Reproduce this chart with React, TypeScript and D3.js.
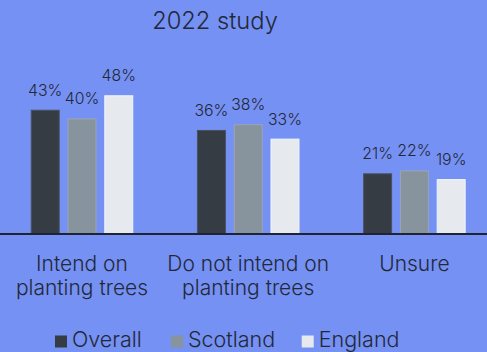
import React from "react";
import * as d3 from "d3";

const categories = ["Intend on\nplanting trees", "Do not intend on\nplanting trees", "Unsure"];
const seriesNames = ["Overall", "Scotland", "England"];
const overall = [43, 36, 21];
const scotland = [40, 38, 22];
const england = [48, 33, 19];
const seriesValues = [overall, scotland, england];
const colors = ["#363c44", "#87939d", "#e6e9ed"];
const strokes = ["#4a5260", "#9aa5b8", "#f2f4ff"];

const W = 487;
const H = 352;
const BG = "#7591f3";
const TEXT = "#232838";
const FONT = "Inter, 'Noto Sans', sans-serif";

export default function App() {
  const x0 = d3.scaleBand<number>()
    .domain(d3.range(categories.length))
    .range([-1.1, 497.5])
    .paddingInner(0.383)
    .paddingOuter(0.1915);
  const x1 = d3.scaleBand<number>()
    .domain(d3.range(seriesNames.length))
    .range([0, x0.bandwidth()])
    .paddingInner(0.212)
    .paddingOuter(0);
  const y = d3.scaleLinear().domain([0, 50]).range([234, 89.5]);

  return (
    <svg width={W} height={H} style={{ position: "fixed", left: 0, top: 0, display: "block", background: BG }}>
      <rect x={0} y={0} width={W} height={H} fill={BG} />
      <text x={215} y={28.5} textAnchor="middle" fontFamily={FONT} fontSize={23.7} fontWeight={300} fill={TEXT}>
        2022 study
      </text>
      {categories.map((c, ci) => (
        <g key={ci} transform={`translate(${x0(ci)},0)`}>
          {seriesValues.map((vals, si) => {
            const v = vals[ci];
            const bx = x1(si)!;
            const bw = x1.bandwidth();
            return (
              <g key={si}>
                <rect x={bx + 0.5} y={y(v) + 0.5} width={bw - 1} height={y(0) - y(v) - 0.5}
                  fill={colors[si]} stroke={strokes[si]} strokeWidth={1} />
                <text x={bx + bw / 2} y={y(v) - 14} textAnchor="middle" fontFamily={FONT}
                  fontSize={15.8} fontWeight={300} fill={TEXT}>{v}%</text>
              </g>
            );
          })}
          {c.split("\n").map((line, li) => (
            <text key={li} x={x0.bandwidth() / 2} y={270.5 + li * 24.5} textAnchor="middle"
              fontFamily={FONT} fontSize={21} fontWeight={300} fill={TEXT}>{line}</text>
          ))}
        </g>
      ))}
      <line x1={0} x2={W} y1={234} y2={234} stroke="#1f2430" strokeWidth={2} />
      {[55, 171, 301.7].map((lx, si) => (
        <g key={si}>
          <rect x={lx} y={335.5} width={12} height={12} fill={colors[si]} />
          <text x={lx + 17} y={347.3} fontFamily={FONT} fontSize={21.5} fontWeight={300} fill={TEXT}>
            {seriesNames[si]}
          </text>
        </g>
      ))}
    </svg>
  );
}
